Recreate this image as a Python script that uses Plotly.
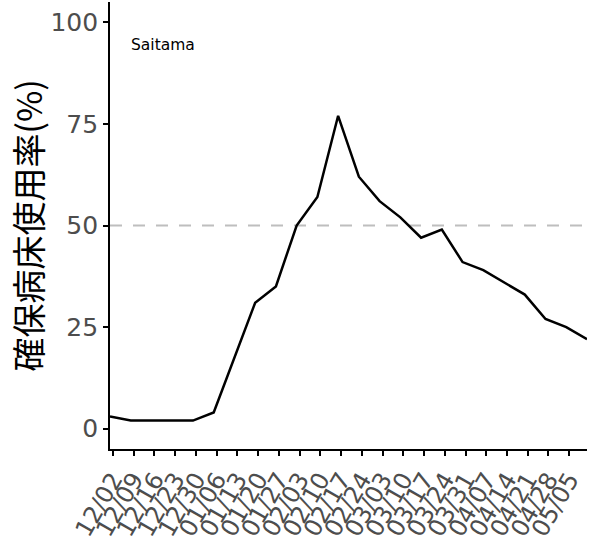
import plotly.graph_objects as go

# ---- data ----
dates = ["2021-12-01", "2021-12-08", "2021-12-15", "2021-12-22", "2021-12-29",
         "2022-01-05", "2022-01-12", "2022-01-19", "2022-01-26", "2022-02-02",
         "2022-02-09", "2022-02-16", "2022-02-23", "2022-03-02", "2022-03-09",
         "2022-03-16", "2022-03-23", "2022-03-30", "2022-04-06", "2022-04-13",
         "2022-04-20", "2022-04-27", "2022-05-04", "2022-05-11"]
usage = [3, 2, 2, 2, 2, 4, 17.5, 31, 35, 50, 57, 77, 62, 56, 52, 47, 49, 41,
         39, 36, 33, 27, 25, 22]

tick_dates = ["2021-12-02", "2021-12-09", "2021-12-16", "2021-12-23", "2021-12-30",
              "2022-01-06", "2022-01-13", "2022-01-20", "2022-01-27", "2022-02-03",
              "2022-02-10", "2022-02-17", "2022-02-24", "2022-03-03", "2022-03-10",
              "2022-03-17", "2022-03-24", "2022-03-31", "2022-04-07", "2022-04-14",
              "2022-04-21", "2022-04-28", "2022-05-05"]
tick_labels = ["12/02", "12/09", "12/16", "12/23", "12/30", "01/06", "01/13",
               "01/20", "01/27", "02/03", "02/10", "02/17", "02/24", "03/03",
               "03/10", "03/17", "03/24", "03/31", "04/07", "04/14", "04/21",
               "04/28", "05/05"]
y_ticks = [0, 25, 50, 75, 100]
threshold = 50
region = "Saitama"
y_title = "確保病床使用率(%)"

# ---- figure ----
fig = go.Figure()
fig.add_trace(go.Scatter(x=dates, y=usage, mode="lines",
                         line=dict(color="black", width=2.5),
                         showlegend=False, hoverinfo="skip"))

fig.add_shape(type="line", xref="paper", yref="y", x0=0, x1=1,
              y0=threshold, y1=threshold,
              line=dict(color="#bebebe", width=2, dash="12px,11px"),
              layer="below")

fig.add_annotation(text=region, xref="paper", yref="paper", x=0.040, y=0.904,
                   xanchor="left", yanchor="middle", showarrow=False,
                   font=dict(family="DejaVu Sans", size=15.5, color="black"))

fig.add_annotation(text=y_title, xref="paper", yref="paper", x=-0.172, y=0.5,
                   xanchor="center", yanchor="middle", showarrow=False,
                   textangle=-90,
                   font=dict(family="Noto Sans CJK JP", size=34, color="black"))

fig.update_layout(
    width=596, height=541,
    margin=dict(l=110, r=9, t=2, b=92, autoexpand=False),
    plot_bgcolor="white", paper_bgcolor="white",
    xaxis=dict(type="date", range=[dates[0], dates[-1]],
               tickmode="array", tickvals=tick_dates, ticktext=tick_labels,
               tickangle=-60, ticks="outside", ticklen=5, tickwidth=1.5,
               tickcolor="black", showline=True, linecolor="black",
               linewidth=1.8, showgrid=False, zeroline=False,
               tickfont=dict(family="DejaVu Sans", size=24, color="#4d4d4d")),
    yaxis=dict(range=[-5, 105], tickmode="array", tickvals=y_ticks,
               ticks="outside", ticklen=5, tickwidth=1.5, tickcolor="black",
               showline=True, linecolor="black", linewidth=1.8,
               showgrid=False, zeroline=False,
               tickfont=dict(family="DejaVu Sans", size=25, color="#4d4d4d")),
)

fig.write_html("out.html", config={"displayModeBar": False},
               post_script="document.body.style.margin='0';document.body.style.overflow='hidden';")
